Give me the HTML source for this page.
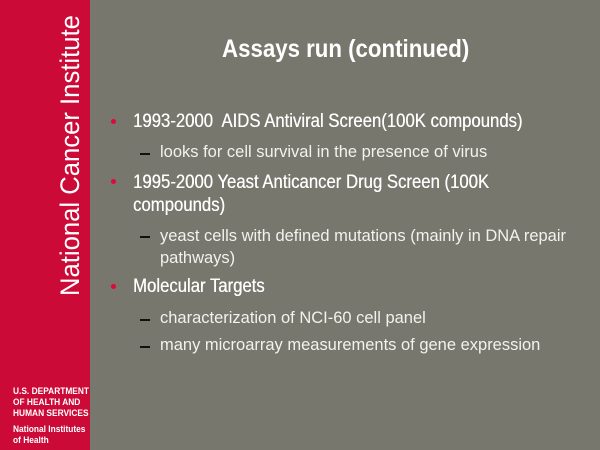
<!DOCTYPE html>
<html><head><meta charset="utf-8"><style>
body{margin:0;width:600px;height:450px;overflow:hidden;background:#77776d;font-family:"Liberation Sans",sans-serif;position:relative}
.bar{position:absolute;left:0;top:0;width:90px;height:450px;background:#cc0a37}
.t{position:absolute;color:#fff;white-space:nowrap;transform-origin:0 0;transform:scaleX(0.86)}
.m{font-size:19px;transform:scaleX(0.88);text-shadow:0.3px 0 0 #fff}
.s{font-size:17px;color:#f2f2ee;transform:scaleX(0.97)}
.b{position:absolute;width:5px;height:5px;border-radius:50%;background:#dd0a3a}
.d{position:absolute;width:10px;height:1.5px;background:#111}
</style></head><body>
<div class="bar"></div>
<div class="t" style="font-size:27px;left:55px;top:296px;transform:rotate(-90deg) scaleX(0.95)">National Cancer Institute</div>
<div class="t" style="left:13px;top:386px;font-size:9.5px;font-weight:bold;line-height:11px;transform:scaleX(0.88)">U.S. DEPARTMENT<br>OF HEALTH AND<br>HUMAN SERVICES</div>
<div class="t" style="left:13px;top:424px;font-size:9.5px;font-weight:bold;line-height:11px;transform:scaleX(0.88)">National Institutes<br>of Health</div>
<div class="t" style="left:222px;top:35px;font-size:25px;font-weight:bold;transform:scaleX(0.89)">Assays run (continued)</div>

<div class="b" style="left:111px;top:119px"></div>
<div class="t m" style="left:133px;top:111px">1993-2000&nbsp; AIDS Antiviral Screen(100K compounds)</div>
<div class="d" style="left:140px;top:153px"></div>
<div class="t s" style="left:160px;top:142px">looks for cell survival in the presence of virus</div>

<div class="b" style="left:111px;top:179px"></div>
<div class="t m" style="left:133px;top:171px;line-height:23px">1995-2000 Yeast Anticancer Drug Screen (100K<br>compounds)</div>
<div class="d" style="left:140px;top:236px"></div>
<div class="t s" style="left:160px;top:225px;line-height:22px">yeast cells with defined mutations (mainly in DNA repair<br>pathways)</div>

<div class="b" style="left:111px;top:284px"></div>
<div class="t m" style="left:133px;top:276px">Molecular Targets</div>
<div class="d" style="left:140px;top:319px"></div>
<div class="t s" style="left:160px;top:308px">characterization of NCI-60 cell panel</div>
<div class="d" style="left:140px;top:346px"></div>
<div class="t s" style="left:160px;top:335px">many microarray measurements of gene expression</div>
</body></html>
